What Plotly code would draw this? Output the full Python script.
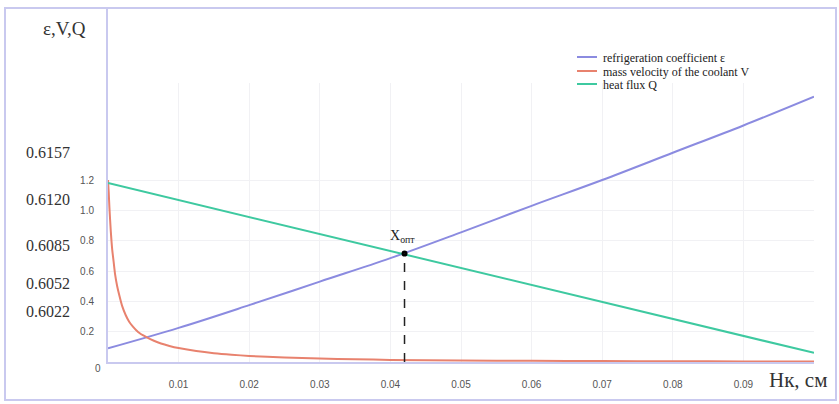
import plotly.graph_objects as go

# ---------------- data ----------------
x_grid = [0.0, 0.01, 0.02, 0.03, 0.04, 0.05, 0.06, 0.07, 0.08, 0.09, 0.1]
eps_vals = [0.09, 0.225, 0.375, 0.53, 0.685, 0.855, 1.03, 1.2, 1.38, 1.56, 1.75]
q_vals = [1.18, 1.068, 0.956, 0.844, 0.732, 0.62, 0.508, 0.396, 0.284, 0.172, 0.06]

x_v = [0.0, 0.0001, 0.0002, 0.0004, 0.0006, 0.0008, 0.001, 0.0013, 0.0016, 0.002,
       0.0025, 0.003, 0.0035, 0.004, 0.0045, 0.005, 0.0055, 0.0065, 0.0075, 0.0087,
       0.01, 0.0125, 0.015, 0.0175, 0.02, 0.025, 0.03, 0.035, 0.04, 0.05, 0.06,
       0.07, 0.08, 0.09, 0.1]
v_vals = [1.2, 1.12, 1.02, 0.86, 0.74, 0.66, 0.58, 0.5, 0.44, 0.37,
          0.31, 0.265, 0.235, 0.21, 0.19, 0.175, 0.162, 0.14, 0.122, 0.106,
          0.092, 0.072, 0.058, 0.048, 0.04, 0.03, 0.023, 0.018, 0.014, 0.01, 0.008,
          0.006, 0.005, 0.004, 0.003]

x_opt = 0.042
y_opt = 0.715

x_ticks = [0.01, 0.02, 0.03, 0.04, 0.05, 0.06, 0.07, 0.08, 0.09]
x_tick_text = ["0.01", "0.02", "0.03", "0.04", "0.05", "0.06", "0.07", "0.08", "0.09"]
y_ticks = [0.2, 0.4, 0.6, 0.8, 1.0, 1.2]
y_tick_text = ["0.2", "0.4", "0.6", "0.8", "1.0", "1.2"]

eps_scale_text = ["0.6157", "0.6120", "0.6085", "0.6052", "0.6022"]
eps_scale_at = [1.384, 1.075, 0.771, 0.521, 0.336]

series_names = ["refrigeration coefficient ε", "mass velocity of the coolant V", "heat flux Q"]
series_colors = ["#8b8be0", "#e8826e", "#3ec9a0"]

# ---------------- layout helpers ----------------
W, H = 839, 404
L, R, T, B = 108, 814, 83, 362


def px(xp):
    return (xp - L) / (R - L)


def py(yp):
    return (B - yp) / (B - T)


fig = go.Figure()

fig.add_trace(go.Scatter(x=x_grid, y=eps_vals, mode="lines", name=series_names[0],
                         line=dict(color=series_colors[0], width=2, shape="spline"),
                         showlegend=False))
fig.add_trace(go.Scatter(x=x_v, y=v_vals, mode="lines", name=series_names[1],
                         line=dict(color=series_colors[1], width=2, shape="spline", smoothing=0.6),
                         showlegend=False))
fig.add_trace(go.Scatter(x=x_grid, y=q_vals, mode="lines", name=series_names[2],
                         line=dict(color=series_colors[2], width=2),
                         showlegend=False))

# optimum dashed drop line
fig.add_shape(type="line", xref="x", yref="y", x0=x_opt, x1=x_opt, y0=0, y1=y_opt,
              line=dict(color="#222222", width=1.5, dash="dash"))
fig.add_trace(go.Scatter(x=[x_opt], y=[y_opt], mode="markers",
                         marker=dict(color="#000000", size=6), showlegend=False))
fig.add_annotation(x=x_opt, y=y_opt, xref="x", yref="y", text="X<sub>опт</sub>",
                   showarrow=False, yshift=17, xshift=-2, xanchor="center", yanchor="middle",
                   font=dict(family="Liberation Serif", size=14, color="#222222"))

# outer frame
frame_col = "#c9c9ef"
fig.add_shape(type="rect", xref="paper", yref="paper",
              x0=px(5), x1=px(836), y0=py(400), y1=py(8),
              line=dict(color=frame_col, width=2), layer="below")
# extension of the vertical axis line up to the frame
fig.add_shape(type="line", xref="paper", yref="paper",
              x0=px(107), x1=px(107), y0=1, y1=py(8),
              line=dict(color=frame_col, width=2))


def label(xp, yp, text, size, family="Liberation Serif", color="#333333", xanchor="center"):
    fig.add_annotation(xref="paper", yref="paper", x=px(xp), y=py(yp), text=text,
                       showarrow=False, xanchor=xanchor, yanchor="middle",
                       font=dict(family=family, size=size, color=color))


# axis titles
label(64, 29, "ε,V,Q", 19)
label(798, 380, "Нк, см", 21)
label(98, 368, "0", 10, family="Liberation Sans", color="#555555")

# secondary epsilon scale labels
for t, v in zip(eps_scale_text, eps_scale_at):
    fig.add_annotation(xref="paper", yref="y", x=px(48), y=v, text=t, showarrow=False,
                       xanchor="center", yanchor="middle",
                       font=dict(family="Liberation Serif", size=16, color="#333333"))

# manual legend
leg_y = [57, 71, 84]
for name, col, yy in zip(series_names, series_colors, leg_y):
    fig.add_shape(type="line", xref="paper", yref="paper", x0=px(577), x1=px(597),
                  y0=py(yy), y1=py(yy), line=dict(color=col, width=2))
    label(601, yy + 1, name, 12, color="#222222", xanchor="left")

fig.update_layout(
    width=W, height=H,
    margin=dict(l=L, r=W - R, t=T, b=H - B),
    paper_bgcolor="white", plot_bgcolor="white",
    showlegend=False,
    xaxis=dict(range=[0, 0.1], tickvals=x_ticks, ticktext=x_tick_text,
               showgrid=True, gridcolor="#f1f1f4", gridwidth=1,
               showline=True, linecolor=frame_col, linewidth=2,
               zeroline=False, ticks="", ticklabelstandoff=12,
               tickfont=dict(family="Liberation Sans", size=10, color="#555555")),
    yaxis=dict(range=[0, 1.84], tickvals=y_ticks, ticktext=y_tick_text,
               showgrid=True, gridcolor="#f1f1f4", gridwidth=1,
               showline=True, linecolor=frame_col, linewidth=2,
               zeroline=False, ticks="", ticklabelstandoff=10,
               tickfont=dict(family="Liberation Sans", size=10, color="#555555")),
)

fig.write_html("out.html", config={"displayModeBar": False},
               post_script="document.body.style.margin='0';")
